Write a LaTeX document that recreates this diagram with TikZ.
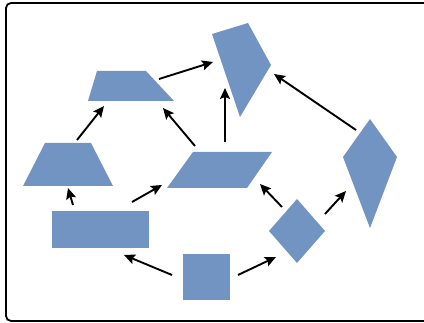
\documentclass[tikz,border=0pt]{standalone}
\usetikzlibrary{arrows.meta}
\definecolor{shapeblue}{RGB}{114,148,195}
\tikzset{
  shapefill/.style={fill=shapeblue, draw=none},
  link/.style={draw=black, line width=1.9pt, -{Stealth[length=11pt,width=10pt,inset=2pt]}},
  frame/.style={draw=black, line width=1.8pt, rounded corners=5pt}
}
\begin{document}
\begin{tikzpicture}[x=1pt,y=-1pt]
\useasboundingbox (0,0) rectangle (424,323);
\begin{scope}
\clip (0,0) rectangle (424,323);
\draw[frame] (6,3) rectangle (436,321);
\end{scope}

% shapes
\fill[shapefill] (97,71) -- (146,71) -- (174,101) -- (88,101) -- cycle;     % upper trapezium
\fill[shapefill] (45,143) -- (91,143) -- (113,186) -- (23,186) -- cycle;    % left trapezium
\fill[shapefill] (52,211) rectangle (149,248);                              % rectangle
\fill[shapefill] (183,254) rectangle (230,300);                             % square
\fill[shapefill] (193,152) -- (272,152) -- (247,188) -- (167,188) -- cycle; % parallelogram
\fill[shapefill] (212,34) -- (248,23) -- (271,65) -- (240,117) -- cycle;    % upper quadrilateral
\fill[shapefill] (370,119) -- (397,157) -- (370,228) -- (343,157) -- cycle; % kite
\fill[shapefill] (297,199) -- (325,231) -- (297,263) -- (269,231) -- cycle; % diamond

% connector end points
\coordinate (a1) at (159,79);  \coordinate (a2) at (213,62);
\coordinate (b1) at (77,140);  \coordinate (b2) at (104,106);
\coordinate (c1) at (195,146); \coordinate (c2) at (163,108);
\coordinate (d1) at (225,142); \coordinate (d2) at (225,88);
\coordinate (e1) at (356,130); \coordinate (e2) at (274,74);
\coordinate (f1) at (73,205);  \coordinate (f2) at (68,188);
\coordinate (g1) at (132,202); \coordinate (g2) at (162,185);
\coordinate (h1) at (172,275); \coordinate (h2) at (124,255);
\coordinate (i1) at (238,275); \coordinate (i2) at (276,257);
\coordinate (j1) at (282,207); \coordinate (j2) at (260,184);
\coordinate (k1) at (325,214); \coordinate (k2) at (346,191);

\foreach \n in {a,b,c,d,e,f,g,h,i,j,k}
  \draw[link] (\n1) -- (\n2);
\end{tikzpicture}
\end{document}
